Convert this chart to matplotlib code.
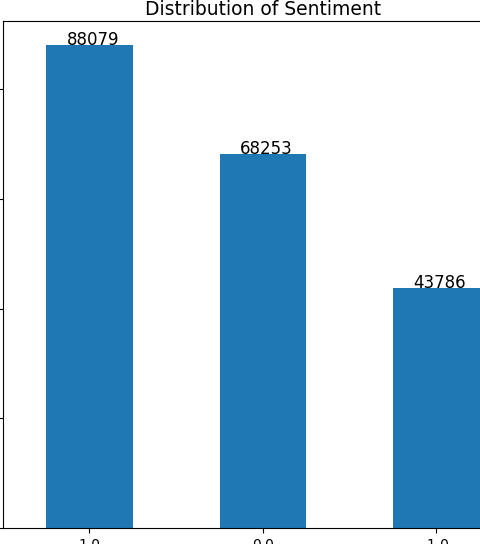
import matplotlib
matplotlib.use('Agg')
import matplotlib.pyplot as plt
import numpy as np

# sentiment counts
labels = ['1.0', '0.0', '-1.0']
counts = [88079, 68253, 43786]

fig = plt.figure(figsize=(4.8, 5.44), dpi=100)
# axes runs past the figure edges (left tick labels and right side cut off)
ax = fig.add_axes([0.00573, 0.0294, 1.0839, 0.932])

x = np.arange(len(labels))
bars = ax.bar(x, counts, width=0.5, color='#1f77b4')
ax.set_xlim(-0.5, 2.5)
ax.set_ylim(0, max(counts) * 1.05)
ax.set_xticks(x)
ax.set_xticklabels(labels, rotation=0)
ax.set_yticks(np.arange(0, 100000, 20000))

for p in bars:
    ax.annotate(str(int(p.get_height())),
                (p.get_x() + p.get_width() / 2 + 0.02, p.get_height()),
                ha='center', va='baseline', fontsize=12)

ax.set_title('Distribution of Sentiment', fontsize=13.5, pad=4)

fig.savefig('out.png', dpi=100)
